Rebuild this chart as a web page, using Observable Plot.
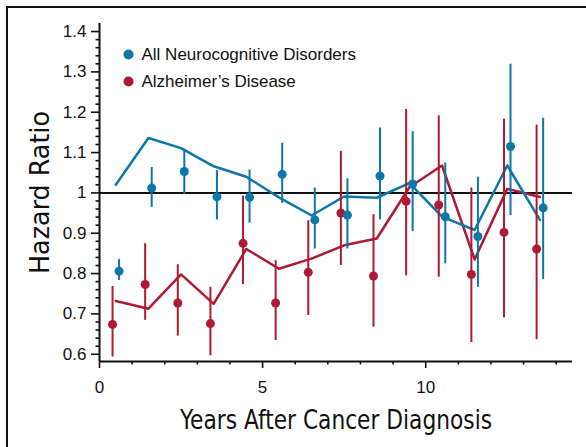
<!DOCTYPE html>
<html>
<head>
<meta charset="utf-8">
<script src="https://cdn.jsdelivr.net/npm/d3@7"></script>
<script src="https://cdn.jsdelivr.net/npm/@observablehq/plot@0.6"></script>
<style>
  html, body { margin: 0; padding: 0; background: #fff; }
  #wrap { position: relative; width: 586px; height: 447px; overflow: hidden; }
  #frame { position: absolute; left: 6px; top: 6px; width: 600px; height: 460px;
           border-top: 2px solid #111; border-left: 2px solid #111; pointer-events: none; }
  #chart { position: absolute; left: 0; top: 0; }
</style>
</head>
<body>
<div id="wrap"><div id="chart"></div><div id="frame"></div></div>
<script>
// ---- data ----
const years = [0, 1, 2, 3, 4, 5, 6, 7, 8, 9, 10, 11, 12, 13];
const seriesNames = ["All Neurocognitive Disorders", "Alzheimer\u2019s Disease"];
const seriesColors = ["#0b78a9", "#ae1a33"];

// All Neurocognitive Disorders
const ndHR = [0.806, 1.012, 1.053, 0.990, 0.989, 1.046, 0.933, 0.945, 1.042, 1.022, 0.941, 0.892, 1.115, 0.963];
const ndLo = [0.783, 0.964, 0.996, 0.933, 0.925, 0.974, 0.861, 0.861, 0.933, 0.904, 0.824, 0.766, 0.944, 0.785];
const ndHi = [0.835, 1.063, 1.106, 1.055, 1.057, 1.123, 1.012, 1.035, 1.161, 1.152, 1.074, 1.039, 1.319, 1.185];
const ndLine = [1.020, 1.136, 1.111, 1.066, 1.040, 0.989, 0.944, 0.991, 0.988, 1.024, 0.941, 0.908, 1.068, 0.933];

// Alzheimer's Disease
const adHR = [0.674, 0.773, 0.727, 0.676, 0.875, 0.727, 0.803, 0.950, 0.794, 0.979, 0.970, 0.798, 0.902, 0.861];
const adLo = [0.593, 0.684, 0.645, 0.596, 0.773, 0.634, 0.696, 0.820, 0.667, 0.794, 0.791, 0.629, 0.690, 0.636];
const adHi = [0.768, 0.874, 0.822, 0.766, 0.992, 0.832, 0.931, 1.103, 0.946, 1.207, 1.191, 1.012, 1.183, 1.168];
const adLine = [0.732, 0.713, 0.798, 0.725, 0.861, 0.812, 0.837, 0.870, 0.887, 1.014, 1.068, 0.835, 1.010, 0.990];

// ticks
const xMajor = [0, 5, 10];
const xMinor = [1, 2, 3, 4, 6, 7, 8, 9, 11, 12, 13, 14];
const yMajor = [0.6, 0.7, 0.8, 0.9, 1.0, 1.1, 1.2, 1.3, 1.4];
const yMinor = [0.62, 0.64, 0.66, 0.68, 0.72, 0.74, 0.76, 0.78, 0.82, 0.84, 0.86, 0.88,
                0.92, 0.94, 0.96, 0.98, 1.02, 1.04, 1.06, 1.08, 1.12, 1.14, 1.16, 1.18,
                1.22, 1.24, 1.26, 1.28, 1.32, 1.34, 1.36, 1.38];
const xDomain = [0, 14.5];
const yDomain = [0.582, 1.42];
const refValue = 1;
const xLabel = "Years After Cancer Diagnosis";
const yLabel = "Hazard Ratio";

// ---- build tables ----
const mid = 0.5, off = 0.1;
const nd = years.map((y, i) => ({x: y + mid + off, hr: ndHR[i], lo: ndLo[i], hi: ndHi[i]}));
const ad = years.map((y, i) => ({x: y + mid - off, hr: adHR[i], lo: adLo[i], hi: adHi[i]}));
const ndL = years.map((y, i) => ({x: y + mid, v: ndLine[i]}));
const adL = years.map((y, i) => ({x: y + mid, v: adLine[i]}));

const titleFont = "'Liberation Sans Narrow', 'DejaVu Sans Condensed', 'Liberation Sans', sans-serif";

const chart = Plot.plot({
  width: 586, height: 447,
  marginLeft: 99, marginRight: 14, marginTop: 23, marginBottom: 86,
  x: {domain: xDomain},
  y: {domain: yDomain},
  style: {fontFamily: "'Liberation Sans', Arial, sans-serif", background: "transparent", color: "#111"},
  marks: [
    // axes
    Plot.axisX(xMajor, {tickSize: 7, tickPadding: 12, fontSize: 17, strokeWidth: 1.6, tickFormat: d => String(d), label: null}),
    Plot.axisX(xMinor, {tickSize: 3.5, strokeWidth: 1.6, tickFormat: () => "", label: null}),
    Plot.axisY(yMajor, {tickSize: 8, tickPadding: 5, fontSize: 17, strokeWidth: 1.6, tickFormat: d => String(+d.toFixed(1)), label: null}),
    Plot.axisY(yMinor, {tickSize: 3.5, strokeWidth: 1.6, tickFormat: () => "", label: null}),
    Plot.ruleX([xDomain[0]], {stroke: "#111", strokeWidth: 2}),
    Plot.ruleY([yDomain[0]], {stroke: "#111", strokeWidth: 2}),
    Plot.ruleY([refValue], {stroke: "#111", strokeWidth: 2}),
    // lines
    Plot.line(adL, {x: "x", y: "v", stroke: seriesColors[1], strokeWidth: 2.5}),
    Plot.line(ndL, {x: "x", y: "v", stroke: seriesColors[0], strokeWidth: 2.5}),
    // error bars
    Plot.ruleX(ad, {x: "x", y1: "lo", y2: "hi", stroke: seriesColors[1], strokeWidth: 2}),
    Plot.ruleX(nd, {x: "x", y1: "lo", y2: "hi", stroke: seriesColors[0], strokeWidth: 2}),
    // points
    Plot.dot(ad, {x: "x", y: "hr", r: 4.5, fill: seriesColors[1], stroke: "none"}),
    Plot.dot(nd, {x: "x", y: "hr", r: 4.5, fill: seriesColors[0], stroke: "none"}),
    // legend
    Plot.dot([seriesNames[0]], {frameAnchor: "top-left", dx: 29, dy: 31, r: 5, fill: seriesColors[0]}),
    Plot.dot([seriesNames[1]], {frameAnchor: "top-left", dx: 29, dy: 58, r: 5, fill: seriesColors[1]}),
    Plot.text([seriesNames[0]], {frameAnchor: "top-left", dx: 42, dy: 31, text: d => d, textAnchor: "start", lineAnchor: "middle", fontSize: 17, fill: "#111"}),
    Plot.text([seriesNames[1]], {frameAnchor: "top-left", dx: 42, dy: 58, text: d => d, textAnchor: "start", lineAnchor: "middle", fontSize: 17, fill: "#111"}),
    // axis titles
    Plot.text([xLabel], {frameAnchor: "bottom", dy: 59, text: d => d, textAnchor: "middle", lineAnchor: "middle", fontSize: 27, fontFamily: titleFont, fill: "#111"}),
    Plot.text([yLabel], {frameAnchor: "left", dx: -59, rotate: -90, text: d => d, textAnchor: "middle", lineAnchor: "middle", fontSize: 27, fontFamily: titleFont, fill: "#111"})
  ]
});
// condense the axis titles to the reference's narrow face
d3.select(chart).selectAll("text")
  .filter(function() { return this.textContent === xLabel; })
  .attr("textLength", 312).attr("lengthAdjust", "spacingAndGlyphs");
d3.select(chart).selectAll("text")
  .filter(function() { return this.textContent === yLabel; })
  .attr("textLength", 163).attr("lengthAdjust", "spacingAndGlyphs");
document.getElementById("chart").appendChild(chart);
</script>
</body>
</html>
